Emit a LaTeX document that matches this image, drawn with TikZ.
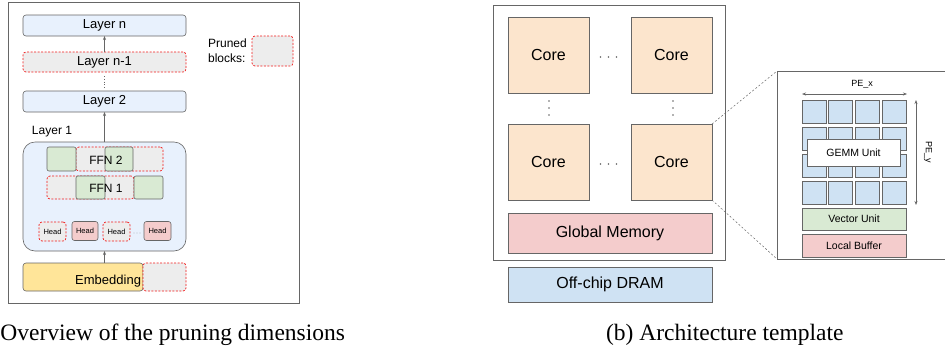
\documentclass[tikz,border=0pt]{standalone}
\usepackage{fontspec}
\setmainfont{Liberation Sans}
\newfontfamily\capfont{Liberation Serif}
\usepackage{xcolor}
\usetikzlibrary{arrows.meta}

\definecolor{edgegray}{HTML}{666666}
\definecolor{layerblue}{HTML}{E8F1FD}
\definecolor{prunegray}{HTML}{EDEDED}
\definecolor{prunered}{HTML}{F21B1B}
\definecolor{ffngreen}{HTML}{D9EAD3}
\definecolor{headpink}{HTML}{F4CCCC}
\definecolor{embyellow}{HTML}{FFE599}
\definecolor{coreorange}{HTML}{FCE5CD}
\definecolor{dramblue}{HTML}{CFE2F3}

\begin{document}
\begin{tikzpicture}[x=1pt, y=-1pt, inner sep=0pt, outer sep=0pt,
    sz/.style 2 args={minimum width=#1, minimum height=#2},
    frame/.style={draw=edgegray, line width=.7pt, fill=white},
    layer/.style={draw=edgegray, fill=layerblue, rounded corners=3pt, line width=.6pt, sz={163}{21}, font=\fontsize{13}{15}\selectfont},
    pruned/.style={draw=prunered, dashed, dash pattern=on 2pt off 1.5pt, fill=prunegray, rounded corners=3pt, line width=.7pt},
    ffn/.style={draw=edgegray, fill=ffngreen, rounded corners=2pt, line width=.6pt},
    head/.style={rounded corners=2.5pt, sz={27}{19}, font=\fontsize{7.5}{9}\selectfont},
    core/.style={draw=edgegray, fill=coreorange, line width=.6pt, sz={81}{76}, font=\fontsize{16}{18}\selectfont},
    bar/.style={draw=edgegray, line width=.6pt, font=\fontsize{16}{18}\selectfont},
    pe/.style={draw=edgegray, fill=dramblue, line width=.6pt, sz={24}{23}},
    unit/.style={draw=edgegray, line width=.6pt, sz={104}{22}, font=\fontsize{10.5}{12}\selectfont},
    arr/.style={draw=edgegray, line width=.6pt, -{Stealth[length=4pt, width=3pt]}},
    dimarr/.style={draw=edgegray, line width=.6pt, {Stealth[length=4pt, width=3pt]}-{Stealth[length=4pt, width=3pt]}},
    zoomline/.style={draw=edgegray, line width=.5pt, dashed, dash pattern=on 2pt off 2pt}]

    \useasboundingbox (0,0) rectangle (945,349);

    % (a) pruning dimensions
    \node[frame, sz={291.5}{300.5}] (panelA) at (153.75,152.75) {};

    \node[layer] (ln)  at (104.5,25.5) {Layer n};
    \node[pruned, sz={163}{20}, font=\fontsize{13}{15}\selectfont] (ln1) at (104.5,62) {Layer n-1};
    \node[layer] (l2)  at (104.5,101.5) {Layer 2};
    \node[draw=edgegray, fill=layerblue, rounded corners=12pt, line width=.6pt, sz={163}{109}] (l1) at (104.5,196.5) {};
    \node[font=\fontsize{12}{14}\selectfont] (l1lbl) at (52,132) {Layer 1};

    % FFN 2 row
    \node[pruned, sz={87}{24}] (ffn2p) at (119.5,159) {};
    \node[ffn, sz={29}{24}] (ffn2a) at (61.5,159) {};
    \node[ffn, sz={28}{24}] (ffn2b) at (119,159) {};
    \node[font=\fontsize{12}{14}\selectfont] (ffn2) at (106,160) {FFN 2};

    % FFN 1 row
    \node[pruned, sz={87}{23}] (ffn1p) at (90.5,187.5) {};
    \node[ffn, sz={29}{23}] (ffn1a) at (90.5,187.5) {};
    \node[ffn, sz={29}{23}] (ffn1b) at (148.5,187.5) {};
    \node[font=\fontsize{12}{14}\selectfont] (ffn1) at (106,188) {FFN 1};

    % heads
    \node[head, pruned] (h1) at (52.5,231.5) {Head};
    \node[head, draw=edgegray, fill=headpink, line width=.6pt, sz={26}{19}] (h2) at (85,231) {Head};
    \node[head, pruned] (h3) at (116.5,231.5) {Head};
    \foreach \dx in {-3,0,3}
        \fill[edgegray] (137+\dx,233) circle (.4pt);
    \node[head, draw=edgegray, fill=headpink, line width=.6pt] (h4) at (157.5,231) {Head};

    % embedding
    \node[draw=edgegray, fill=embyellow, rounded corners=3pt, line width=.6pt, sz={120}{28}] (emb) at (83,277) {};
    \node[pruned, sz={43}{28}] (embp) at (164.5,277) {};
    \node[anchor=east, font=\fontsize{13}{15}\selectfont] (embtxt) at (141,281) {Embedding};

    \draw[arr] (emb.north -| l1.south) -- (l1.south);
    \draw[arr] (l1.north) -- (l2.south);
    \draw[edgegray, line width=.8pt, dotted] (104.5,76) -- (104.5,88);
    \draw[arr] (ln1.north) -- (ln.south);

    % legend
    \node[align=left, font=\fontsize{12}{15}\selectfont] (legend) at (227.5,51) {Pruned\\blocks:};
    \node[pruned, sz={41}{30}] (legbox) at (272.5,51) {};

    % (b) architecture template
    \node[frame, sz={232}{255}] (chip) at (609,132.5) {};
    \node[core] (c11) at (548.5,55) {Core};
    \node[core] (c12) at (671.5,55) {Core};
    \node[core] (c21) at (548.5,162) {Core};
    \node[core] (c22) at (671.5,162) {Core};
    \foreach \dy in {57,164}
        \foreach \dx in {-8,0,8}
            \fill[edgegray] (608.5+\dx,\dy) circle (.8pt);
    \foreach \dx in {549,673}
        \foreach \dy in {-7,0,7}
            \fill[edgegray] (\dx,108+\dy) circle (.8pt);
    \node[bar, fill=headpink, sz={204}{40}] (gmem) at (610,233) {Global Memory};
    \node[bar, fill=dramblue, sz={204}{35}] (dram) at (610,284.5) {Off-chip DRAM};

    % zoomed core
    \node[frame, anchor=north west, sz={180}{188}] (inset) at (777,71) {};
    \draw[zoomline] (c22.north east) -- (inset.north west);
    \draw[zoomline] (c22.south east) -- (inset.south west);

    \foreach \i in {0,...,3}
        \foreach \j in {0,...,3}
            \node[pe] (pe\i\j) at (814+26.67*\i, 111.5+27*\j) {};
    \node[draw=edgegray, fill=white, line width=.6pt, sz={93}{27}, font=\fontsize{10.5}{12}\selectfont] (gemm) at (853.5,152.5) {GEMM Unit};

    \coordinate (pexl) at (802,94);
    \coordinate (pexr) at (907,94);
    \draw[dimarr] (pexl) -- (pexr);
    \node[font=\fontsize{9}{11}\selectfont] (pex) at (862,84) {PE\_x};
    \coordinate (peyt) at (916,100);
    \coordinate (peyb) at (916,205);
    \draw[dimarr] (peyt) -- (peyb);
    \node[rotate=-90, font=\fontsize{9}{11}\selectfont] (pey) at (928,152) {PE\_y};

    \node[unit, fill=ffngreen] (vec) at (854,219) {Vector Unit};
    \node[unit, fill=headpink, sz={104}{23}] (lbuf) at (854,245.5) {Local Buffer};

    % captions
    \node[anchor=base east, font=\capfont\fontsize{23.5}{26}\selectfont] (capa) at (345,340) {Overview of the pruning dimensions};
    \node[anchor=base west, font=\capfont\fontsize{23.5}{26}\selectfont] (capb) at (606,340) {(b) Architecture template};

\end{tikzpicture}
\end{document}
